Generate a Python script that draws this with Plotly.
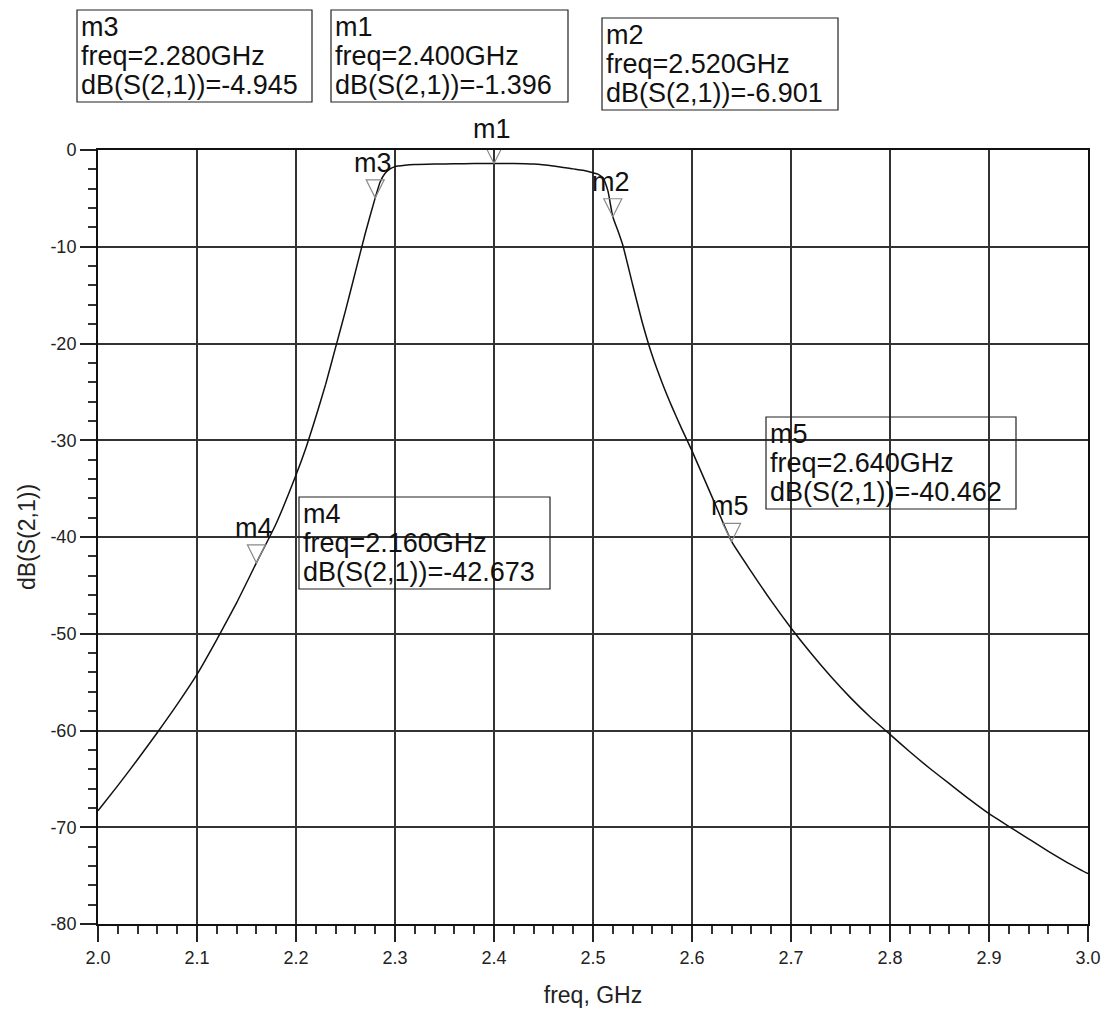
import plotly.graph_objects as go

# ---- data ----
freq_ghz = [2.00, 2.02, 2.04, 2.06, 2.08, 2.10, 2.12, 2.14, 2.16, 2.18, 2.20, 2.21, 2.22, 2.23,
            2.24, 2.25, 2.26, 2.27, 2.28, 2.285, 2.29, 2.295, 2.30, 2.31, 2.32, 2.34, 2.36, 2.38,
            2.40, 2.42, 2.44, 2.46, 2.48, 2.49, 2.50, 2.505, 2.51, 2.515, 2.52, 2.525, 2.53, 2.54,
            2.55, 2.56, 2.57, 2.58, 2.59, 2.60, 2.62, 2.64, 2.66, 2.68, 2.70, 2.72, 2.74, 2.76,
            2.78, 2.80, 2.82, 2.84, 2.86, 2.88, 2.90, 2.92, 2.94, 2.96, 2.98, 3.00]
s21_db = [-68.3, -65.7, -63.0, -60.2, -57.3, -54.2, -50.6, -46.8, -42.673, -38.6, -33.6, -30.8, -27.6, -24.2,
          -20.4, -16.6, -12.6, -8.6, -4.945, -3.3, -2.4, -1.95, -1.72, -1.58, -1.50, -1.45, -1.42, -1.40,
          -1.396, -1.39, -1.45, -1.65, -1.95, -2.1, -2.35, -2.5, -2.9, -4.2, -6.901, -8.3, -9.8, -13.9,
          -17.9, -21.3, -24.1, -26.6, -28.9, -31.1, -35.8, -40.462, -43.6, -46.6, -49.4, -52.0, -54.4, -56.6,
          -58.6, -60.4, -62.2, -63.9, -65.5, -67.1, -68.6, -69.9, -71.2, -72.5, -73.7, -74.8]

marker_names = ["m3", "m1", "m2", "m4", "m5"]
marker_freq = [2.280, 2.400, 2.520, 2.160, 2.640]
marker_db = [-4.945, -1.396, -6.901, -42.673, -40.462]

x_ticks = [2.0, 2.1, 2.2, 2.3, 2.4, 2.5, 2.6, 2.7, 2.8, 2.9, 3.0]
y_ticks = [0, -10, -20, -30, -40, -50, -60, -70, -80]
y_ticktext = ["0", "-10", "-20", "-30", "-40", "-50", "-60", "-70", "-80"]

# readout box placement (pixels in the 1105x1010 page): left, top, right
box_px = {"m3": (77, 10, 312), "m1": (331, 10, 568), "m2": (602, 18, 838),
          "m4": (299, 497, 550), "m5": (766, 417, 1016)}

W, H = 1105, 1010
ML, MR, MT, MB = 98, 17, 150, 86
PW, PH = W - ML - MR, H - MT - MB
FONT = "Arial, Liberation Sans, sans-serif"


def px_to_paper(px, py):
    return (px - ML) / PW, (H - MB - py) / PH


fig = go.Figure()
fig.add_trace(go.Scatter(x=freq_ghz, y=s21_db, mode="lines",
                         line=dict(color="#111111", width=1.5, shape="spline", smoothing=0.5),
                         showlegend=False, hoverinfo="x+y"))

shapes = []
annotations = []
for name, f, d in zip(marker_names, marker_freq, marker_db):
    # open downward triangle, tip at the data point
    shapes.append(dict(type="path", xref="x", yref="y", xsizemode="pixel", ysizemode="pixel",
                       xanchor=f, yanchor=d, path="M -9,18 L 9,18 L 0,0 Z",
                       line=dict(color="#8a8a8a", width=1.2), fillcolor="rgba(0,0,0,0)",
                       layer="above"))
    annotations.append(dict(x=f, y=d, xref="x", yref="y", text=name, showarrow=False,
                            xshift=-2, yshift=35, font=dict(family=FONT, size=27, color="#111111")))
    # readout box
    left, top, right = box_px[name]
    bottom = top + 92
    x0, y1 = px_to_paper(left, top)
    x1, y0 = px_to_paper(right, bottom)
    shapes.append(dict(type="rect", xref="paper", yref="paper", x0=x0, x1=x1, y0=y0, y1=y1,
                       line=dict(color="#222222", width=1.2), fillcolor="rgba(0,0,0,0)"))
    lines = [name, f"freq={f:.3f}GHz", f"dB(S(2,1))={d:.3f}"]
    for i, t in enumerate(lines):
        lx, ly = px_to_paper(left + 2, top + 17 + i * 29)
        annotations.append(dict(x=lx, y=ly, xref="paper", yref="paper", text=t, showarrow=False,
                                xanchor="left", yanchor="middle",
                                font=dict(family=FONT, size=27, color="#111111")))

fig.update_layout(
    width=W, height=H,
    margin=dict(l=ML, r=MR, t=MT, b=MB, autoexpand=False),
    paper_bgcolor="white", plot_bgcolor="white",
    shapes=shapes, annotations=annotations,
    font=dict(family=FONT, color="#222222"),
)
fig.update_xaxes(
    range=[2.0, 3.0], tickvals=x_ticks, tickformat=".1f", automargin=False,
    showgrid=True, gridcolor="#333333", gridwidth=1.6,
    showline=True, mirror=True, linecolor="#111111", linewidth=2,
    ticks="outside", ticklen=16, tickwidth=2, tickcolor="#222222",
    minor=dict(dtick=0.02, ticks="outside", ticklen=8, tickwidth=2, tickcolor="#333333", showgrid=False),
    tickfont=dict(family=FONT, size=18, color="#222222"),
    title=dict(text="freq, GHz", font=dict(family=FONT, size=23, color="#222222"), standoff=20),
    zeroline=False,
)
fig.update_yaxes(
    range=[-80, 0], tickvals=y_ticks, ticktext=y_ticktext, automargin=False,
    showgrid=True, gridcolor="#333333", gridwidth=1.6,
    showline=True, mirror=True, linecolor="#111111", linewidth=2,
    ticks="outside", ticklen=16, tickwidth=2, tickcolor="#222222",
    minor=dict(dtick=2, ticks="outside", ticklen=8, tickwidth=2, tickcolor="#333333", showgrid=False),
    tickfont=dict(family=FONT, size=18, color="#222222"),
    title=dict(text="dB(S(2,1))", font=dict(family=FONT, size=23, color="#222222"), standoff=8),
    zeroline=False,
)

fig.write_html("out.html")
